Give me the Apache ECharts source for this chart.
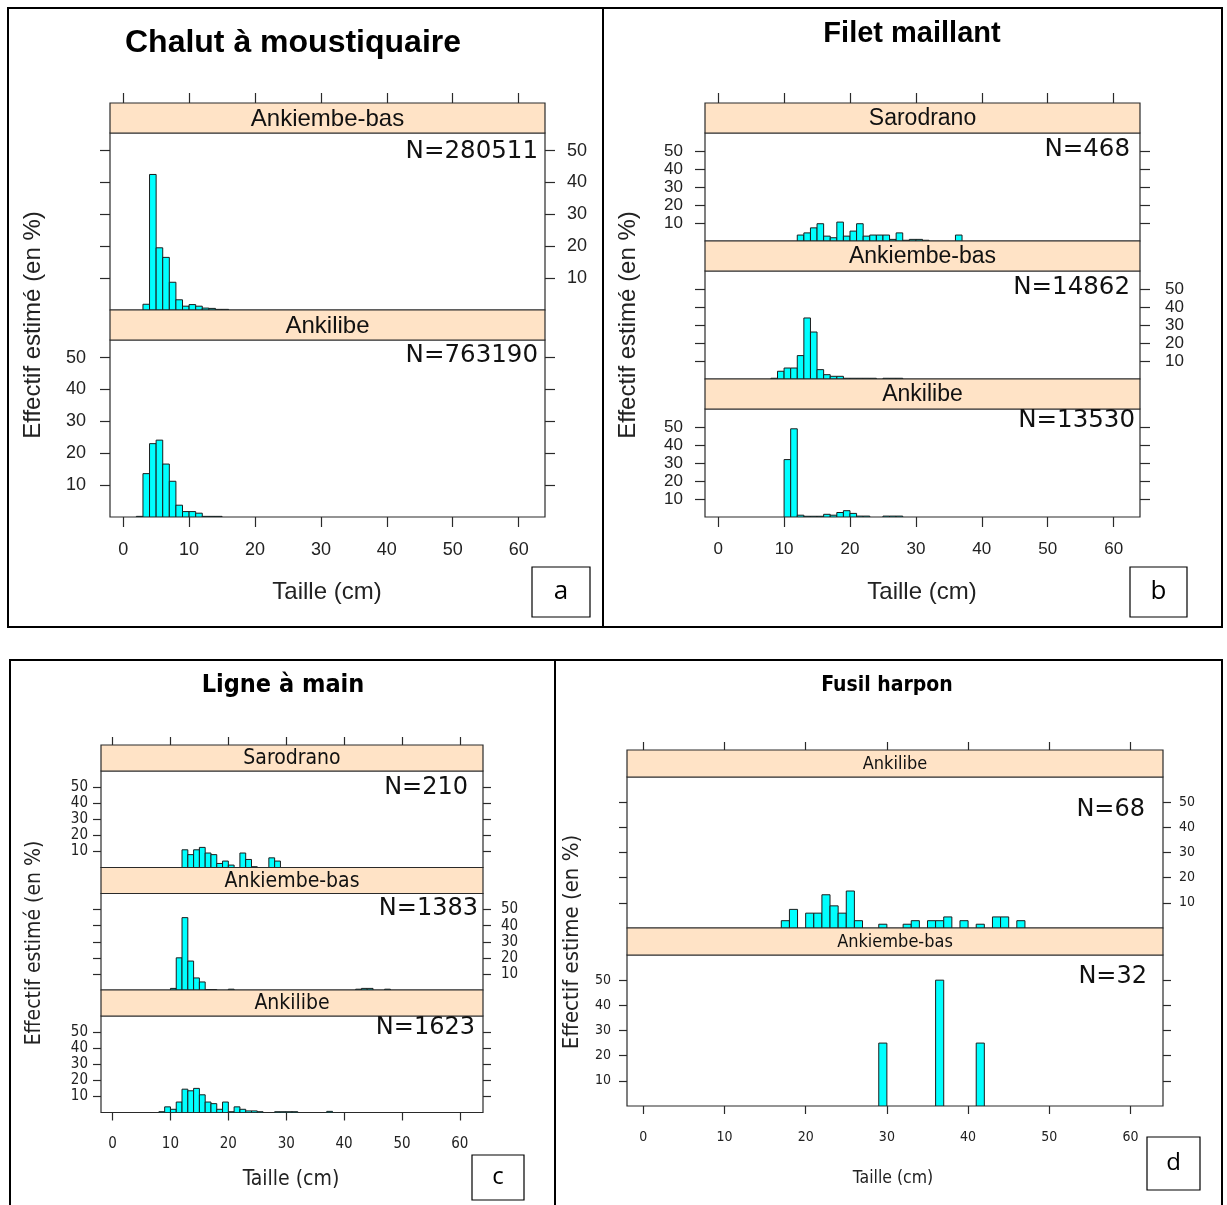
<!DOCTYPE html>
<html><head><meta charset="utf-8">
<script src="https://cdn.jsdelivr.net/npm/echarts@6/dist/echarts.min.js"></script>
<style>html,body{margin:0;padding:0;background:#fff}#c{width:1227px;height:1205px}</style>
</head><body><div id="c"></div>
<script>
// ---------- tick values ----------
const xTickValues = [0, 10, 20, 30, 40, 50, 60];
const yTickValues = [10, 20, 30, 40, 50];

// ---------- data: [bin start (cm), effectif estimé %], bins of 1 cm ----------
// a : Chalut à moustiquaire
const aAnkiembeBas = [[3,1.8],[4,42.5],[5,19.5],[6,16.5],[7,8.7],[8,3.2],[9,1.2],[10,1.7],[11,1.2],[12,0.6],[13,0.5],[14,0.2],[15,0.2]];
const aAnkilibe = [[2,0.2],[3,13.6],[4,23],[5,24.1],[6,16.6],[7,11.2],[8,3.7],[9,1.7],[10,1.7],[11,1.2],[12,0.2],[13,0.2],[14,0.2]];
// b : Filet maillant
const bSarodrano = [[12,3.3],[13,4.5],[14,7.3],[15,9.6],[16,2.7],[17,1.8],[18,10.5],[19,2.7],[20,5.5],[21,9.6],[22,2.7],[23,3.3],[24,3.3],[25,3.3],[26,0.9],[27,4.5],[28,0.4],[29,0.9],[30,0.9],[31,0.4],[36,3.3]];
const bAnkiembeBas = [[8,0.4],[9,4.3],[10,6.1],[11,6.1],[12,13],[13,33.9],[14,26.1],[15,5.2],[16,2.4],[17,1.5],[18,1.5],[19,0.4],[20,0.4],[21,0.4],[22,0.4],[23,0.4],[25,0.4],[26,0.4],[27,0.4]];
const bAnkilibe = [[10,31.9],[11,49],[12,1],[13,0.4],[14,0.4],[15,0.4],[16,1.5],[17,1],[18,2.5],[19,3.5],[20,2],[21,0.5],[22,0.5],[25,0.5],[26,0.5],[27,0.5]];
// c : Ligne à main
const cSarodrano = [[12,11],[13,8],[14,11],[15,12.5],[16,9],[17,8],[18,2.5],[19,4],[20,1.5],[22,9],[23,5],[24,0.5],[27,6],[28,4]];
const cAnkiembeBas = [[10,1],[11,20],[12,45],[13,18],[14,7.5],[15,5],[16,0.3],[17,0.3],[20,0.5],[42,0.5],[43,1],[44,1],[47,0.5]];
const cAnkilibe = [[8,0.5],[9,3.5],[10,2],[11,6.5],[12,14.5],[13,13.5],[14,15],[15,11],[16,6.5],[17,5.5],[18,2],[19,6.5],[20,0.5],[21,3.5],[22,2],[23,1],[24,1],[25,0.5],[28,0.5],[29,0.5],[30,0.5],[31,0.5],[37,0.7]];
// d : Fusil harpon
const dAnkilibe = [[17,2.9],[18,7.4],[20,5.9],[21,5.9],[22,13.2],[23,8.8],[24,5.9],[25,14.7],[26,2.9],[29,1.5],[32,1.5],[33,2.9],[35,2.9],[36,2.9],[37,4.4],[39,2.9],[41,1.5],[43,4.4],[44,4.4],[46,2.9]];
const dAnkiembeBas = [[29,25],[36,50],[41,25]];

// ---------- layout ----------
const SANS = '"Liberation Sans", Arial, sans-serif';
const NARROW = '"Liberation Sans Narrow", "DejaVu Sans Condensed", "Liberation Sans", sans-serif';
const NFONT = '"DejaVu Sans", sans-serif';
const STRIP_FILL = '#FFE3C6';
const LINE = '#2a2a2a';

const columns = [
  { title:'Chalut à moustiquaire', titleX:293, titleY:43, titleFont:'bold 32px ' + SANS,
    left:110, width:435, top:103, stripH:30, panelH:177, yMax:55.5,
    tickFont:SANS, tickSize:18, stripFont:'24px ' + SANS, tickLen:10, yMarginL:24, yMarginR:22, xMargin:24,
    yTitle:'Effectif estimé (en %)', yTitleX:33, yTitleY:325, yTitleFont:'24px ' + SANS,
    xTitle:'Taille (cm)', xTitleX:327, xTitleY:592, xTitleFont:'24px ' + SANS,
    box:[8,8,595,619], letter:'a', letterBox:[532,567,58,50], letterSize:26,
    rows:[
      { name:'Ankiembe-bas', data:aAnkiembeBas, n:'N=280511', nRight:538, nDy:19, nSize:24.5 },
      { name:'Ankilibe', data:aAnkilibe, n:'N=763190', nRight:538, nDy:16, nSize:24.5 }
    ]},
  { title:'Filet maillant', titleX:912, titleY:34, titleFont:'bold 29px ' + SANS,
    left:705, width:435, top:103, stripH:30, panelH:108, yMax:60,
    tickFont:SANS, tickSize:17, stripFont:'23px ' + SANS, tickLen:10, yMarginL:22, yMarginR:25, xMargin:24,
    yTitle:'Effectif estimé (en %)', yTitleX:628, yTitleY:325, yTitleFont:'24px ' + SANS,
    xTitle:'Taille (cm)', xTitleX:922, xTitleY:592, xTitleFont:'24px ' + SANS,
    box:[603,8,619,619], letter:'b', letterBox:[1130,567,57,50], letterSize:26,
    rows:[
      { name:'Sarodrano', data:bSarodrano, n:'N=468', nRight:1130, nDy:17, nSize:24.5 },
      { name:'Ankiembe-bas', data:bAnkiembeBas, n:'N=14862', nRight:1130, nDy:17, nSize:24.5 },
      { name:'Ankilibe', data:bAnkilibe, n:'N=13530', nRight:1135, nDy:12, nSize:24.5 }
    ]},
  { title:'Ligne à main', titleX:283, titleY:685, titleFont:'bold 25px ' + NARROW,
    left:101, width:382, top:745, stripH:26, panelH:96.5, yMax:60,
    tickFont:NARROW, tickSize:15, stripFont:'21px ' + NARROW, tickLen:8, yMarginL:13, yMarginR:18, xMargin:24,
    yTitle:'Effectif estimé (en %)', yTitleX:35, yTitleY:943, yTitleFont:'21px ' + NARROW,
    xTitle:'Taille (cm)', xTitleX:291, xTitleY:1180, xTitleFont:'21px ' + NARROW,
    box:[10,660,545,560], letter:'c', letterBox:[472,1155,52,45], letterSize:24,
    rows:[
      { name:'Sarodrano', data:cSarodrano, n:'N=210', nRight:468, nDy:17, nSize:24 },
      { name:'Ankiembe-bas', data:cAnkiembeBas, n:'N=1383', nRight:478, nDy:15, nSize:24 },
      { name:'Ankilibe', data:cAnkilibe, n:'N=1623', nRight:475, nDy:12, nSize:24 }
    ]},
  { title:'Fusil harpon', titleX:887, titleY:686, titleFont:'bold 21px ' + NARROW,
    left:627, width:536, top:750, stripH:27, panelH:151, yMax:60,
    tickFont:NARROW, tickSize:14, stripFont:'18px ' + NARROW, tickLen:8, yMarginL:16, yMarginR:16, xMargin:24,
    yTitle:'Effectif estime (en %)', yTitleX:572, yTitleY:942, yTitleFont:'22px ' + NARROW,
    xTitle:'Taille (cm)', xTitleX:893, xTitleY:1178, xTitleFont:'17.5px ' + NARROW,
    box:[555,660,667,560], letter:'d', letterBox:[1147,1137,53,53], letterSize:24,
    rows:[
      { name:'Ankilibe', data:dAnkilibe, n:'N=68', nRight:1145, nDy:33, nSize:24 },
      { name:'Ankiembe-bas', data:dAnkiembeBas, n:'N=32', nRight:1147, nDy:22, nSize:24 }
    ]}
];

// ---------- build option ----------
const grids = [], xAxes = [], yAxes = [], series = [], graphics = [];

function renderBar(params, api) {
  const x0 = api.value(0), v = api.value(1);
  const p0 = api.coord([x0, 0]);
  const p1 = api.coord([x0 + 1, v]);
  return { type:'rect',
    shape:{ x:p0[0], y:p1[1], width:p1[0] - p0[0], height:p0[1] - p1[1] },
    style:{ fill:'#00FFFF', stroke:'#1c1c1c', lineWidth:1 } };
}

columns.forEach(col => {
  graphics.push({ type:'rect', shape:{ x:col.box[0], y:col.box[1], width:col.box[2], height:col.box[3] },
    style:{ fill:'none', stroke:'#000', lineWidth:2 }, z:1 });
  graphics.push({ type:'text', x:col.titleX, y:col.titleY,
    style:{ text:col.title, font:col.titleFont, fill:'#000', textAlign:'center', textVerticalAlign:'middle' }, z:5 });
  graphics.push({ type:'text', x:col.yTitleX, y:col.yTitleY, rotation:Math.PI / 2,
    style:{ text:col.yTitle, font:col.yTitleFont, fill:'#222', textAlign:'center', textVerticalAlign:'middle' }, z:5 });
  graphics.push({ type:'text', x:col.xTitleX, y:col.xTitleY,
    style:{ text:col.xTitle, font:col.xTitleFont, fill:'#222', textAlign:'center', textVerticalAlign:'middle' }, z:5 });
  const lb = col.letterBox;
  graphics.push({ type:'rect', shape:{ x:lb[0], y:lb[1], width:lb[2], height:lb[3] },
    style:{ fill:'#fff', stroke:'#000', lineWidth:1.2 }, z:5 });
  graphics.push({ type:'text', x:lb[0] + lb[2] / 2, y:lb[1] + lb[3] / 2,
    style:{ text:col.letter, font:col.letterSize + 'px "Open Sans", "Noto Sans", sans-serif', fill:'#000', textAlign:'center', textVerticalAlign:'middle' }, z:6 });

  const nRows = col.rows.length;
  let y = col.top;
  col.rows.forEach((row, i) => {
    const stripTop = y;
    const panelTop = y + col.stripH;
    y = panelTop + col.panelH;
    const isTop = i === 0, isBottom = i === nRows - 1;
    const labelRight = ((nRows - 1 - i) % 2) === 1;

    graphics.push({ type:'rect', shape:{ x:col.left, y:stripTop, width:col.width, height:col.stripH },
      style:{ fill:STRIP_FILL, stroke:LINE, lineWidth:1.2 }, z:3 });
    graphics.push({ type:'text', x:col.left + col.width / 2, y:stripTop + col.stripH / 2 + 1,
      style:{ text:row.name, font:col.stripFont, fill:'#111', textAlign:'center', textVerticalAlign:'middle' }, z:4 });
    graphics.push({ type:'text', x:row.nRight, y:panelTop + row.nDy,
      style:{ text:row.n, font:row.nSize + 'px ' + NFONT, fill:'#111', textAlign:'right', textVerticalAlign:'middle' }, z:4 });

    const gi = grids.length;
    grids.push({ left:col.left, top:panelTop, width:col.width, height:col.panelH,
      show:true, borderColor:LINE, borderWidth:1.2, backgroundColor:'transparent' });

    const tickStyle = { color:LINE, width:1.2 };
    const labelStyle = { fontFamily:col.tickFont, fontSize:col.tickSize, color:'#222' };
    const noLine = { show:false, onZero:false };

    const xMain = xAxes.length;
    xAxes.push({ gridIndex:gi, type:'value', min:-2, max:64, position:'bottom',
      axisLine:noLine, splitLine:{ show:false },
      axisTick:{ show:isBottom, inside:false, length:col.tickLen, customValues:xTickValues, lineStyle:tickStyle },
      axisLabel:{ show:isBottom, customValues:xTickValues, margin:col.xMargin, ...labelStyle } });
    if (isTop) {
      xAxes.push({ gridIndex:gi, type:'value', min:-2, max:64, position:'top', offset:col.stripH,
        axisLine:noLine, splitLine:{ show:false },
        axisTick:{ show:true, inside:false, length:col.tickLen, customValues:xTickValues, lineStyle:tickStyle },
        axisLabel:{ show:false } });
    }
    const yLeft = yAxes.length;
    yAxes.push({ gridIndex:gi, type:'value', min:0, max:col.yMax, position:'left',
      axisLine:noLine, splitLine:{ show:false },
      axisTick:{ show:true, inside:false, length:col.tickLen, customValues:yTickValues, lineStyle:tickStyle },
      axisLabel:{ show:!labelRight, customValues:yTickValues, margin:col.yMarginL, ...labelStyle } });
    yAxes.push({ gridIndex:gi, type:'value', min:0, max:col.yMax, position:'right',
      axisLine:noLine, splitLine:{ show:false },
      axisTick:{ show:true, inside:false, length:col.tickLen, customValues:yTickValues, lineStyle:tickStyle },
      axisLabel:{ show:labelRight, customValues:yTickValues, margin:col.yMarginR, ...labelStyle } });

    series.push({ type:'custom', name:row.name, xAxisIndex:xMain, yAxisIndex:yLeft,
      data:row.data, encode:{ x:0, y:1 }, renderItem:renderBar, clip:true, silent:true, z:2 });
  });
});

const chart = echarts.init(document.getElementById('c'));
chart.setOption({
  animation:false,
  backgroundColor:'#ffffff',
  grid:grids, xAxis:xAxes, yAxis:yAxes, series:series,
  graphic:{ elements:graphics }
});
</script>
</body></html>
